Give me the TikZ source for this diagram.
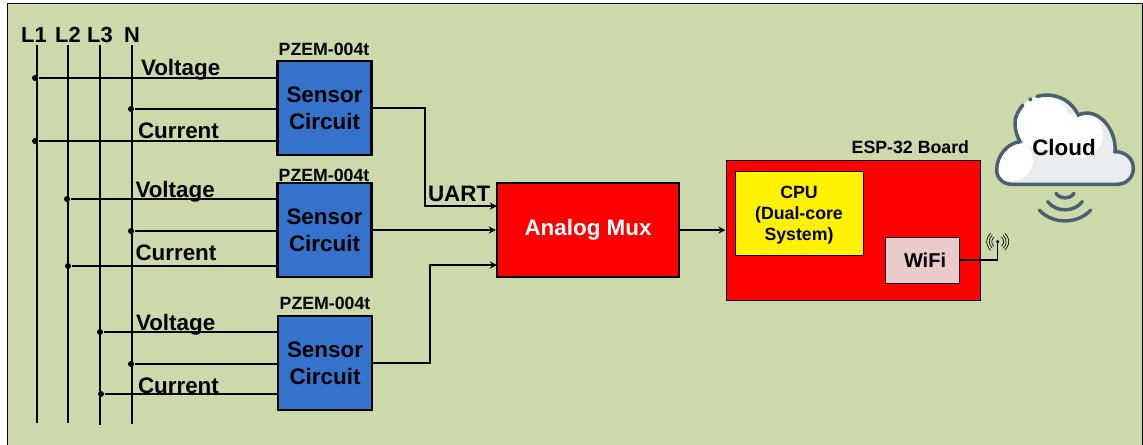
\documentclass[tikz,border=0pt]{standalone}
\usepackage{fontspec}
\setmainfont{Liberation Sans}
\definecolor{panelgreen}{HTML}{CCD9AB}
\definecolor{sensorblue}{HTML}{3572CC}
\definecolor{wifipink}{HTML}{EACBCB}
\definecolor{cloudline}{HTML}{4A6070}
\definecolor{cloudfill}{HTML}{E9ECEF}
\tikzset{every picture/.style={line width=0.75pt}}
\tikzset{
  wire/.style={line width=1.4pt},
  feed/.style={line width=1.4pt,-stealth},
  dot/.style={circle,fill=black,inner sep=0pt,minimum size=4.5pt},
  bigtext/.style={font=\fontsize{16.8}{20}\selectfont\bfseries},
  sensorbox/.style={draw,fill=sensorblue,line width=1.6pt,minimum width=70.5pt,minimum height=70pt,inner sep=0pt,align=center,bigtext},
  tag/.style={anchor=base west,inner sep=0pt,bigtext},
  busname/.style={anchor=base,inner sep=0pt,font=\fontsize{16.4}{19}\selectfont\bfseries},
  partname/.style={anchor=base,inner sep=0pt,font=\fontsize{13.3}{16}\selectfont\bfseries},
  chipname/.style={align=center,inner sep=0pt,font=\fontsize{13.3}{16}\selectfont\bfseries},
  cloudstroke/.style={draw=cloudline,line width=2.6pt,line cap=round}
}

\begin{document}
\begin{tikzpicture}[x=0.75pt,y=0.75pt,yscale=-1,xscale=1]
\useasboundingbox (0,0) rectangle (1143,444);

%Shape: Rectangle
\draw[fill=panelgreen] (7,3.5) rectangle (1142.5,460);

% Phase conductors
\node[busname] (l1name) at (34,42) {L1};
\node[busname] (l2name) at (68,42) {L2};
\node[busname] (l3name) at (100,42) {L3};
\node[busname] (nname) at (132,42) {N};
\coordinate (l1top) at (36.8,45);
\coordinate (l2top) at (68.3,45);
\coordinate (l3top) at (100.2,45);
\coordinate (ntop) at (132.2,45);
\coordinate (l1end) at (36.8,423);
\coordinate (l2end) at (68.3,423);
\coordinate (l3end) at (100.2,425);
\coordinate (nend) at (132.2,424);
\draw[wire] (l1top) -- (l1end);
\draw[wire] (l2top) -- (l2end);
\draw[wire] (l3top) -- (l3end);
\draw[wire] (ntop) -- (nend);

% Sensor boards
\draw (324.5,108) node [sensorbox] (sensora) {Sensor\\Circuit};
\draw (324.5,230) node [sensorbox] (sensorb) {Sensor\\Circuit};
\draw (325,363) node [sensorbox] (sensorc) {Sensor\\Circuit};
\draw (324,55) node [partname] (parta) {PZEM-004t};
\draw (324,181) node [partname] (partb) {PZEM-004t};
\draw (325,309) node [partname] (partc) {PZEM-004t};

% Tap points on the conductors
\node[dot] (va) at (35,78) {};
\node[dot] (na) at (131,109) {};
\node[dot] (ca) at (35,141) {};
\node[dot] (vb) at (67,199) {};
\node[dot] (nb) at (131,231) {};
\node[dot] (cb) at (68,266) {};
\node[dot] (vc) at (100,332) {};
\node[dot] (nc) at (131,364) {};
\node[dot] (cc) at (101,394) {};
\draw[wire] (va) -- (va -| sensora.west);
\draw[wire] (na) -- (na -| sensora.west);
\draw[wire] (ca) -- (ca -| sensora.west);
\draw[wire] (vb) -- (vb -| sensorb.west);
\draw[wire] (nb) -- (nb -| sensorb.west);
\draw[wire] (cb) -- (cb -| sensorb.west);
\draw[wire] (vc) -- (vc -| sensorc.west);
\draw[wire] (nc) -- (nc -| sensorc.west);
\draw[wire] (cc) -- (cc -| sensorc.west);

% Text Node
\draw (140.5,75) node [tag] (voltagea) {Voltage};
\draw (137.5,138) node [tag] (currenta) {Current};
\draw (135,197) node [tag] (voltageb) {Voltage};
\draw (135,260) node [tag] (currentb) {Current};
\draw (135.5,330) node [tag] (voltagec) {Voltage};
\draw (137.5,393) node [tag] (currentc) {Current};

% Multiplexer and board
\draw (588,230) node [draw,fill=red,line width=1.6pt,minimum width=136.5pt,minimum height=70pt,inner sep=0pt,text=white,bigtext] (mux) {Analog Mux};
\draw (853,230.5) node [draw,fill=red,minimum width=190.5pt,minimum height=105.5pt,inner sep=0pt] (esp) {};
\draw (799,213.5) node [draw,fill=yellow,minimum width=96pt,minimum height=63.5pt,chipname] (cpu) {\rule{0pt}{11.7pt}CPU\\(Dual-core\\System)};
\draw (922.5,260) node [draw,fill=wifipink,minimum width=56pt,minimum height=34.5pt,chipname,font=\fontsize{15}{18}\selectfont\bfseries] (wifi) {\hspace*{3.8pt}WiFi};
\draw (969.5,153) node [anchor=base east,inner sep=0pt,font=\fontsize{13.3}{16}\selectfont\bfseries] (espname) {ESP-32 Board};

% Signal paths
\coordinate (muxa) at (497,206);
\coordinate (muxc) at (497,265);
\draw[feed] (sensora.east) -- (425,108) -- (425,206) -- (muxa);
\draw[feed] (sensorb.east) -- (sensorb.east -| mux.west);
\draw[feed] (sensorc.east) -- (430,363) -- (430,265) -- (muxc);
\draw[feed] (mux.east) -- (mux.east -| esp.west);
\draw (427.5,201) node [tag] (uart) {UART};

% Antenna
\coordinate (aerial) at (997.7,241.7);
\draw[line width=0.8pt] (wifi.east) -| (aerial);
\fill (aerial) circle (1.7);
\foreach \r in {6,8.5,11} {
  \draw[line width=0.5pt] (aerial) ++(-50:\r) arc (-50:50:\r);
  \draw[line width=0.5pt] (aerial) ++(130:\r) arc (130:230:\r);
}

%Curve Lines: cloud
\begin{scope}
\clip (1020,141.7) .. controls (1008,143) and (996.7,155) .. (996.7,170) .. controls (996.7,178) and (1003,184.3) .. (1011.7,184.3) -- (1116.7,184.3) .. controls (1127,184.3) and (1133.3,177) .. (1133.3,168.3) .. controls (1133.3,158) and (1125,151.7) .. (1115,151.7) .. controls (1117,130) and (1098,106) .. (1078.3,115) .. controls (1072,102) and (1060,95) .. (1046.7,95) .. controls (1030,95) and (1015,108) .. (1015,123.3) .. controls (1015,130) and (1017,136) .. (1020,141.7) -- cycle;
\fill[cloudfill] (990,90) rectangle (1140,190);
\fill[white] (1043,123) circle (27);
\fill[white] (1080,135) circle (23);
\fill[white] (1012,160) circle (21);
\end{scope}
\draw[cloudstroke] (1022.9,105) .. controls (1018,111.2) and (1015,116.4) .. (1015,123.3) .. controls (1015,130) and (1017,136) .. (1020,141.7) .. controls (1008,143) and (996.7,155) .. (996.7,170) .. controls (996.7,178) and (1003,184.3) .. (1011.7,184.3) -- (1116.7,184.3) .. controls (1127,184.3) and (1133.3,177) .. (1133.3,168.3) .. controls (1133.3,158) and (1125,151.7) .. (1115,151.7) .. controls (1117,130) and (1098,106) .. (1078.3,115) .. controls (1072,102) and (1060,95) .. (1046.7,95) .. controls (1043.4,95) and (1040.1,95.5) .. (1036.9,96.5);
\fill[cloudline] (1030.3,99.3) circle (2);
\draw[cloudstroke] (1056,193.3) .. controls (1060,199.5) and (1070,199.5) .. (1074,193.3);
\draw[cloudstroke] (1047.7,201.7) .. controls (1056,212.5) and (1074,212.5) .. (1082.3,201.7);
\draw[cloudstroke] (1039.3,210) .. controls (1052,224.5) and (1078,224.5) .. (1090.7,210);
\draw (1064,147) node [inner sep=0pt,bigtext] (cloudname) {Cloud};

\end{tikzpicture}
\end{document}
